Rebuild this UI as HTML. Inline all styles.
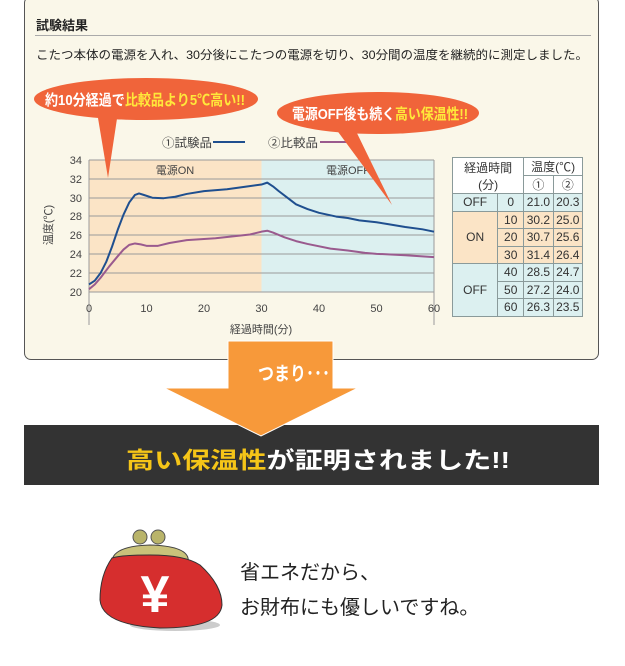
<!DOCTYPE html>
<html><head><meta charset="utf-8"><style>
body{margin:0;width:625px;height:666px;background:#fff;position:relative;overflow:hidden;font-family:"Liberation Sans","Noto Sans CJK JP",sans-serif;}
.abs{position:absolute;}
.panel{left:24px;top:-4px;width:573px;height:362px;background:#faf7e9;border:1px solid #555;border-radius:7px;}
td{border:1px solid #8a9a9a;text-align:center;font-size:12px;color:#333;padding:0;height:16.5px;}
</style></head><body>
<div class="abs panel"></div>
<div class="abs" style="left:36px;top:15px;font-size:13px;color:#222;font-weight:bold">試験結果</div>
<div class="abs" style="left:35px;top:35px;width:556px;height:1px;background:#aaa"></div>
<svg class="abs" style="left:0;top:0" width="625" height="666">
<text x="36" y="59" font-size="12" fill="#222" textLength="552" lengthAdjust="spacingAndGlyphs">こたつ本体の電源を入れ、30分後にこたつの電源を切り、30分間の温度を継続的に測定しました。</text>
<rect x="89" y="160" width="172.5" height="132" fill="#fbe4c6"/>
<rect x="261.5" y="160" width="172.5" height="132" fill="#dcf0f0"/>
<g stroke="#9a9a9a" stroke-width="1">
<line x1="89" x2="434" y1="160" y2="160"/><line x1="89" x2="434" y1="179" y2="179"/><line x1="89" x2="434" y1="198" y2="198"/><line x1="89" x2="434" y1="216" y2="216"/><line x1="89" x2="434" y1="235" y2="235"/><line x1="89" x2="434" y1="254" y2="254"/><line x1="89" x2="434" y1="273" y2="273"/><line x1="89" x2="434" y1="292" y2="292"/>
<line x1="89" x2="89" y1="160" y2="325"/><line x1="434" x2="434" y1="160" y2="325"/>
</g>
<g transform="translate(89,160) scale(5.75,9.43)" fill="none">
<polyline vector-effect="non-scaling-stroke" stroke="#1f4f8f" stroke-width="2" stroke-linejoin="round" points="0,13.2 1,12.8 2,12 3,10.8 4,9.2 5,7.4 6,5.8 7,4.5 8,3.7 8.7,3.55 9.5,3.7 11,4 13,4.05 15,3.9 17,3.6 20,3.3 24,3.1 27,2.85 30,2.6 31,2.4 32,2.8 33,3.3 34.5,4 36,4.7 38,5.2 40,5.6 43,6 45,6.15 47,6.4 50,6.6 52,6.8 55,7.1 58,7.35 60,7.6"/>
<polyline vector-effect="non-scaling-stroke" stroke="#9a5a8e" stroke-width="2" stroke-linejoin="round" points="0,13.7 1,13.2 2,12.5 3.5,11.3 5,10.2 6,9.5 7,9 8,8.85 9,8.95 10,9.1 12,9.1 14,8.8 17,8.5 22,8.3 25,8.1 28,7.9 30,7.6 31,7.5 32,7.7 34,8.2 36,8.6 38,8.9 42,9.4 45,9.6 48,9.85 50,9.95 55,10.1 60,10.3"/>
</g>
<g font-size="11" fill="#444" text-anchor="end">
<text x="82" y="164">34</text><text x="82" y="183">32</text><text x="82" y="202">30</text><text x="82" y="220">28</text><text x="82" y="239">26</text><text x="82" y="258">24</text><text x="82" y="277">22</text><text x="82" y="296">20</text>
</g>
<g font-size="11" fill="#444" text-anchor="middle">
<text x="89" y="312">0</text><text x="146.5" y="312">10</text><text x="204" y="312">20</text><text x="261.5" y="312">30</text><text x="319" y="312">40</text><text x="376.5" y="312">50</text><text x="434" y="312">60</text>
<text x="261" y="333">経過時間(分)</text>
<text x="175" y="174">電源ON</text><text x="348" y="174">電源OFF</text>
</g>
<text x="162" y="147" font-size="12" fill="#444" textLength="50" lengthAdjust="spacingAndGlyphs">①試験品</text>
<text x="268" y="147" font-size="12" fill="#444" textLength="50" lengthAdjust="spacingAndGlyphs">②比較品</text>
<text x="52" y="225" font-size="11" fill="#444" transform="rotate(-90 52 225)" text-anchor="middle">温度(℃)</text>
<line x1="213" x2="245" y1="142" y2="142" stroke="#1f4f8f" stroke-width="2"/>
<line x1="320" x2="352" y1="142" y2="142" stroke="#9a5a8e" stroke-width="2"/>
<g fill="#f0643a">
<polygon points="97,112 118,112 108,178"/>
<ellipse cx="146" cy="99" rx="112" ry="21"/>
<polygon points="333,125 353,125 392,205"/>
<ellipse cx="378" cy="113" rx="101" ry="21"/>
</g>
<text x="45" y="105" font-size="15" font-weight="bold" fill="#fff" textLength="200" lengthAdjust="spacingAndGlyphs">約10分経過で<tspan fill="#ffe83a">比較品より5℃高い!!</tspan></text>
<text x="292" y="119" font-size="15" font-weight="bold" fill="#fff" textLength="176" lengthAdjust="spacingAndGlyphs">電源OFF後も続く<tspan fill="#ffe83a">高い保温性!!</tspan></text>
<rect x="24" y="425" width="575" height="60" fill="#333"/>
<polygon points="228,341 333,341 333,388 358,388 261,436 164,388 228,388" fill="#f7993a" stroke="#fff" stroke-width="1"/>
<text x="258" y="380" font-size="19" font-weight="bold" fill="#fff" textLength="72" lengthAdjust="spacingAndGlyphs">つまり･･･</text>
<text x="126" y="468" font-size="23" font-weight="bold" fill="#fff" textLength="384" lengthAdjust="spacingAndGlyphs"><tspan fill="#f5c518">高い保温性</tspan>が証明されました!!</text>
<ellipse cx="175" cy="625" rx="45" ry="6" fill="#ccc"/>
<circle cx="140" cy="537" r="7" fill="#b9b46a" stroke="#555"/><circle cx="158" cy="537" r="7" fill="#b9b46a" stroke="#555"/>
<path d="M112,560 Q115,546 150,545 Q185,546 188,558 L190,570 L112,572Z" fill="#c9c27a" stroke="#444"/>
<path d="M112,558 Q100,575 100,600 Q102,625 160,628 Q220,628 222,605 Q222,585 200,565 Q185,555 150,555 Q120,555 112,558Z" fill="#d62e2e" stroke="#333"/>
<text x="155" y="612" font-size="52" font-weight="bold" fill="#fff" text-anchor="middle">¥</text>
<g font-size="20" fill="#222">
<text x="240" y="579">省エネだから、</text>
<text x="240" y="614">お財布にも優しいですね。</text>
</g>
</svg>
<table class="abs" style="left:452px;top:157px;border-collapse:collapse;width:131px;background:#fff">
<tr><td colspan="2" rowspan="2" style="width:58px">経過時間<br>(分)</td><td colspan="2">温度(℃)</td></tr>
<tr><td>①</td><td>②</td></tr>
<tr style="background:#dcf0f0"><td>OFF</td><td>0</td><td>21.0</td><td>20.3</td></tr>
<tr style="background:#fbe4c6"><td rowspan="3">ON</td><td>10</td><td>30.2</td><td>25.0</td></tr>
<tr style="background:#fbe4c6"><td>20</td><td>30.7</td><td>25.6</td></tr>
<tr style="background:#fbe4c6"><td>30</td><td>31.4</td><td>26.4</td></tr>
<tr style="background:#dcf0f0"><td rowspan="3">OFF</td><td>40</td><td>28.5</td><td>24.7</td></tr>
<tr style="background:#dcf0f0"><td>50</td><td>27.2</td><td>24.0</td></tr>
<tr style="background:#dcf0f0"><td>60</td><td>26.3</td><td>23.5</td></tr>
</table>
</body></html>
